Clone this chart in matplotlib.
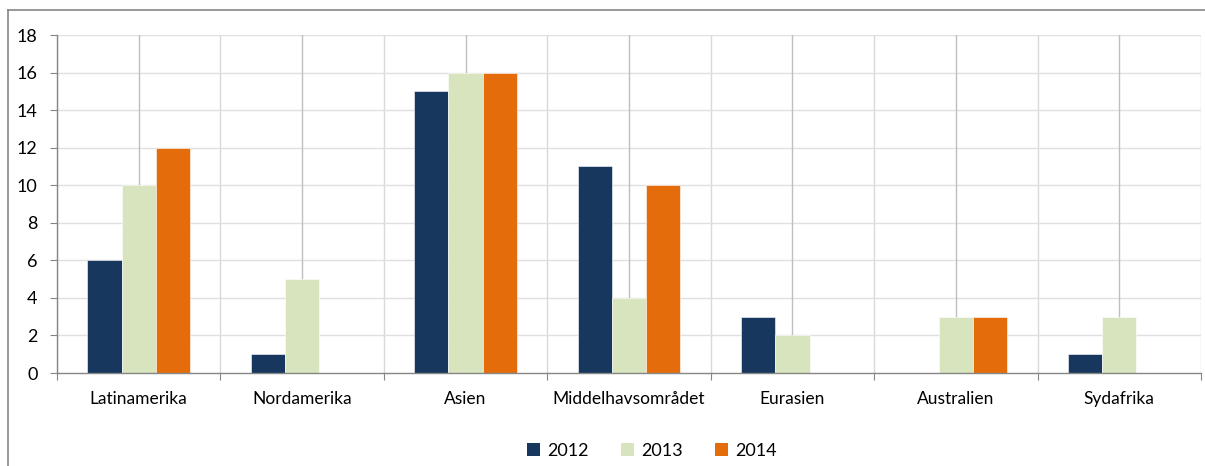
import matplotlib
matplotlib.use("Agg")
import matplotlib.pyplot as plt
from matplotlib.lines import Line2D
from matplotlib.patches import Patch
import numpy as np

categories = ["Latinamerika", "Nordamerika", "Asien", "Middelhavsområdet", "Eurasien", "Australien", "Sydafrika"]
series_names = ["2012", "2013", "2014"]
v2012 = [6, 1, 15, 11, 3, 0, 1]
v2013 = [10, 5, 16, 4, 2, 3, 3]
v2014 = [12, 0, 16, 10, 0, 3, 0]
yticks = [0, 2, 4, 6, 8, 10, 12, 14, 16, 18]
colors = ["#17375E", "#D7E4BD", "#E46C0A"]

plt.rcParams['font.family'] = ['Lato', 'DejaVu Sans']

fig = plt.figure(figsize=(12.05, 4.66), dpi=100)
ax = fig.add_axes([57/1205, 1-373/466, (1201-57)/1205, (373-35)/466])

n = len(categories)
x = np.arange(n)
w = 0.21
for i, (vals, c, name) in enumerate(zip([v2012, v2013, v2014], colors, series_names)):
    ax.bar(x + (i-1)*w, vals, width=w, color=c, edgecolor="white", linewidth=0.4, zorder=3, label=name)

# center lines
for xi in x:
    ax.axvline(xi, color="#BFBFBF", lw=1.0, zorder=1)
# boundary gridlines
for b in np.arange(n+1) - 0.5:
    ax.axvline(b, color="#D9D9D9", lw=1.0, zorder=0.5)
for yv in yticks[1:]:
    ax.axhline(yv, color="#E0E0E0", lw=1.0, zorder=0.5)

ax.set_xlim(-0.5, n-0.5)
ax.set_ylim(0, 18)
ax.set_yticks(yticks)
ax.set_yticklabels([str(t) for t in yticks], fontsize=13)
ax.set_xticks(np.arange(n+1) - 0.5)
ax.set_xticklabels([])
ax.set_xticks(x, minor=True)
ax.set_xticklabels(categories, minor=True, fontsize=12.5)
ax.tick_params(axis='x', which='minor', length=0, pad=13)
ax.tick_params(axis='x', which='major', length=5, color="#868686", direction='out')
ax.tick_params(axis='y', length=5, color="#868686", direction='out', pad=9)

for s in ["top", "right"]:
    ax.spines[s].set_visible(False)
for s in ["left", "bottom"]:
    ax.spines[s].set_color("#868686")
    ax.spines[s].set_linewidth(1.0)
    ax.spines[s].set_zorder(4)

handles = [Patch(facecolor=c, edgecolor='none') for c in colors]
fig.legend(handles, series_names, loc='center', bbox_to_anchor=(652/1205, 1-451/466),
           ncol=3, frameon=False, fontsize=13, handlelength=0.7, handleheight=0.7,
           columnspacing=1.8, handletextpad=0.4)

# outer frame lines
fig.add_artist(Line2D([8/1205, 8/1205], [0, 1-10/466], transform=fig.transFigure, color="#868686", lw=1.2))
fig.add_artist(Line2D([8/1205, 1], [1-10/466, 1-10/466], transform=fig.transFigure, color="#868686", lw=1.2))

fig.savefig("out.png", dpi=100)
